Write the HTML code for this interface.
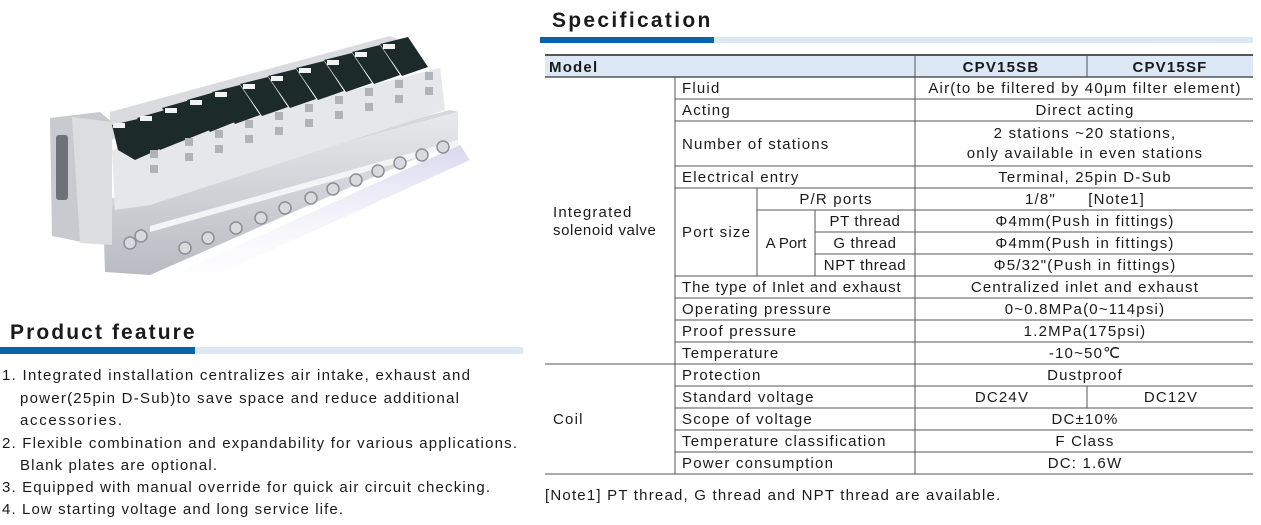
<!DOCTYPE html>
<html><head><meta charset="utf-8"><style>
html,body{margin:0;padding:0;background:#fff;}
svg{display:block;}
text{font-family:"Liberation Sans",Arial,sans-serif;fill:#1a1a1a;}
</style></head><body>
<svg width="1261" height="525" viewBox="0 0 1261 525" xmlns="http://www.w3.org/2000/svg">
<defs>
<linearGradient id="metal" x1="0" y1="0" x2="0" y2="1"><stop offset="0" stop-color="#e8e9ec"/><stop offset="1" stop-color="#b9bbc2"/></linearGradient>
<linearGradient id="shadow" x1="0" y1="0" x2="0" y2="1"><stop offset="0" stop-color="#c9c6e6"/><stop offset="1" stop-color="#fff" stop-opacity="0"/></linearGradient>
</defs>
<g>
<polygon points="140,290 460,145 470,160 150,305" fill="url(#shadow)" opacity="0.7"/>
<polygon points="105,200 450,110 458,112 110,206" fill="#d6d7db"/>
<polygon points="110,206 458,112 458,140 150,275 105,272 103,210" fill="url(#metal)"/>
<polygon points="150,226 458,140 458,146 150,232" fill="#f4f4f6"/>
<polygon points="110,112 390,36 400,40 400,60 110,140" fill="#dadbde"/>
<polygon points="112,150 440,68 445,110 150,205 115,210" fill="#e6e7ea"/>
<g fill="#1d2a2a">
<polygon points="112,125 142,118 162,148 135,160 118,150"/>
<polygon points="137,118 165,110 185,140 160,150"/>
<polygon points="162,108 190,100 210,130 185,140"/>
<polygon points="187,100 215,92 235,122 210,132"/>
<polygon points="212,92 240,85 260,115 235,124"/>
<polygon points="240,84 268,77 288,107 262,116"/>
<polygon points="268,76 296,69 316,99 290,108"/>
<polygon points="296,68 324,61 344,91 318,100"/>
<polygon points="324,60 352,53 372,83 346,92"/>
<polygon points="352,52 380,45 400,75 374,84"/>
<polygon points="380,44 408,37 428,67 402,76"/>
</g>
<g fill="#f2f2f2">
<rect x="113" y="123" width="12" height="5"/><rect x="140" y="116" width="12" height="5"/><rect x="165" y="108" width="12" height="5"/><rect x="190" y="100" width="12" height="5"/><rect x="215" y="92" width="12" height="5"/><rect x="243" y="84" width="12" height="5"/><rect x="271" y="76" width="12" height="5"/><rect x="299" y="68" width="12" height="5"/><rect x="327" y="60" width="12" height="5"/><rect x="355" y="52" width="12" height="5"/><rect x="383" y="44" width="12" height="5"/>
</g>
<g fill="#b0b3b8">
<rect x="150" y="150" width="8" height="8"/><rect x="150" y="165" width="8" height="8"/><rect x="185" y="138" width="8" height="8"/><rect x="185" y="153" width="8" height="8"/><rect x="215" y="130" width="8" height="8"/><rect x="215" y="145" width="8" height="8"/><rect x="245" y="120" width="8" height="8"/><rect x="245" y="135" width="8" height="8"/><rect x="275" y="112" width="8" height="8"/><rect x="275" y="127" width="8" height="8"/><rect x="305" y="104" width="8" height="8"/><rect x="305" y="119" width="8" height="8"/><rect x="335" y="96" width="8" height="8"/><rect x="335" y="111" width="8" height="8"/><rect x="365" y="88" width="8" height="8"/><rect x="365" y="103" width="8" height="8"/><rect x="395" y="80" width="8" height="8"/><rect x="395" y="95" width="8" height="8"/><rect x="425" y="72" width="8" height="8"/><rect x="425" y="87" width="8" height="8"/>
</g>
<polygon points="50,118 100,112 112,122 112,245 82,242 52,236" fill="#c9cacf"/>
<polygon points="72,117 112,122 112,245 80,243" fill="#dcdde0"/>
<rect x="56" y="135" width="12" height="65" rx="3" fill="#6f7178"/>
<g fill="#d9dadd" stroke="#8d8f96" stroke-width="1.5">
<circle cx="185" cy="248" r="6"/><circle cx="208" cy="238" r="6"/><circle cx="236" cy="228" r="6"/><circle cx="261" cy="218" r="6"/><circle cx="285" cy="208" r="6"/><circle cx="311" cy="198" r="6"/><circle cx="333" cy="189" r="6"/><circle cx="356" cy="180" r="6"/><circle cx="378" cy="171" r="6"/><circle cx="400" cy="163" r="6"/><circle cx="422" cy="155" r="6"/><circle cx="443" cy="147" r="6"/>
<circle cx="130" cy="243" r="6"/><circle cx="141" cy="236" r="6"/>
</g>
</g>

<text x="552" y="27" font-size="21" font-weight="bold" letter-spacing="2.3">Specification</text>
<rect x="540" y="37" width="174" height="6" fill="#0a62ad"/>
<rect x="714" y="37" width="539" height="6" fill="#dde8f4"/>

<text x="10" y="339" font-size="21" font-weight="bold" letter-spacing="2.1">Product feature</text>
<rect x="0" y="347" width="195" height="7" fill="#0a62ad"/>
<rect x="195" y="347" width="328" height="7" fill="#dde8f4"/>
<g font-size="15" lengthAdjust="spacing">
<text x="2" y="380" textLength="468" lengthAdjust="spacing">1. Integrated installation centralizes air intake, exhaust and</text>
<text x="20" y="403" textLength="439" lengthAdjust="spacing">power(25pin D-Sub)to save space and reduce additional</text>
<text x="20" y="425" textLength="102" lengthAdjust="spacing">accessories.</text>
<text x="2" y="448" textLength="515" lengthAdjust="spacing">2. Flexible combination and expandability for various applications.</text>
<text x="20" y="470" textLength="197" lengthAdjust="spacing">Blank plates are optional.</text>
<text x="2" y="492" textLength="488" lengthAdjust="spacing">3. Equipped with manual override for quick air circuit checking.</text>
<text x="2" y="514" textLength="341" lengthAdjust="spacing">4. Low starting voltage and long service life.</text>
</g>

<rect x="545" y="55" width="708" height="22" fill="#dce8f5"/>
<g stroke="#555" stroke-width="1" fill="none">
<line x1="545" y1="55" x2="1253" y2="55" stroke-width="2"/>
<line x1="545" y1="77" x2="1253" y2="77" stroke-width="1.5"/>
<line x1="545" y1="364" x2="1253" y2="364"/>
<line x1="545" y1="474" x2="1253" y2="474"/>
<line x1="675" y1="77" x2="675" y2="474"/>
<line x1="915" y1="55" x2="915" y2="474"/>
<line x1="1087" y1="55" x2="1087" y2="77"/>
<line x1="1087" y1="386" x2="1087" y2="408"/>
<line x1="757" y1="188" x2="757" y2="276"/>
<line x1="815" y1="210" x2="815" y2="276"/>
<line x1="675" y1="99" x2="1253" y2="99"/>
<line x1="675" y1="121" x2="1253" y2="121"/>
<line x1="675" y1="166" x2="1253" y2="166"/>
<line x1="675" y1="188" x2="1253" y2="188"/>
<line x1="757" y1="210" x2="1253" y2="210"/>
<line x1="815" y1="232" x2="1253" y2="232"/>
<line x1="815" y1="254" x2="1253" y2="254"/>
<line x1="675" y1="276" x2="1253" y2="276"/>
<line x1="675" y1="298" x2="1253" y2="298"/>
<line x1="675" y1="320" x2="1253" y2="320"/>
<line x1="675" y1="342" x2="1253" y2="342"/>
<line x1="675" y1="386" x2="1253" y2="386"/>
<line x1="675" y1="408" x2="1253" y2="408"/>
<line x1="675" y1="430" x2="1253" y2="430"/>
<line x1="675" y1="452" x2="1253" y2="452"/>
</g>
<g font-size="15" letter-spacing="1.2">
<text x="549" y="72" font-weight="bold">Model</text>
<text x="1001" y="72" font-weight="bold" text-anchor="middle">CPV15SB</text>
<text x="1170" y="72" font-weight="bold" text-anchor="middle">CPV15SF</text>

<text x="682" y="93">Fluid</text>
<text x="682" y="115">Acting</text>
<text x="682" y="149">Number of stations</text>
<text x="682" y="182">Electrical entry</text>
<text x="836" y="204" text-anchor="middle">P/R ports</text>
<text x="682" y="237">Port size</text>
<text x="786" y="248" text-anchor="middle" letter-spacing="0">A Port</text>
<text x="865" y="226" text-anchor="middle" letter-spacing="0.6">PT thread</text>
<text x="865" y="248" text-anchor="middle" letter-spacing="0.6">G thread</text>
<text x="865" y="270" text-anchor="middle" letter-spacing="0.6">NPT thread</text>
<text x="682" y="292" letter-spacing="0.9">The type of Inlet and exhaust</text>
<text x="682" y="314">Operating pressure</text>
<text x="682" y="336">Proof pressure</text>
<text x="682" y="358">Temperature</text>
<text x="682" y="380">Protection</text>
<text x="682" y="402">Standard voltage</text>
<text x="682" y="424">Scope of voltage</text>
<text x="682" y="446">Temperature classification</text>
<text x="682" y="468">Power consumption</text>

<text x="553" y="217">Integrated</text>
<text x="553" y="235" letter-spacing="0.6">solenoid valve</text>
<text x="553" y="424">Coil</text>

<g text-anchor="middle">
<text x="1085" y="93">Air(to be filtered by 40μm filter element)</text>
<text x="1085" y="115">Direct acting</text>
<text x="1085" y="138">2 stations ~20 stations,</text>
<text x="1085" y="158">only available in even stations</text>
<text x="1085" y="182">Terminal, 25pin D-Sub</text>
<text x="1085" y="204" xml:space="preserve">1/8"      [Note1]</text>
<text x="1085" y="226">Φ4mm(Push in fittings)</text>
<text x="1085" y="248">Φ4mm(Push in fittings)</text>
<text x="1085" y="270">Φ5/32"(Push in fittings)</text>
<text x="1085" y="292">Centralized inlet and exhaust</text>
<text x="1085" y="314">0~0.8MPa(0~114psi)</text>
<text x="1085" y="336">1.2MPa(175psi)</text>
<text x="1085" y="358">-10~50℃</text>
<text x="1085" y="380">Dustproof</text>
<text x="1002" y="402">DC24V</text>
<text x="1171" y="402">DC12V</text>
<text x="1085" y="424">DC±10%</text>
<text x="1085" y="446">F Class</text>
<text x="1085" y="468">DC: 1.6W</text>
</g>
<text x="545" y="500">[Note1] PT thread, G thread and NPT thread are available.</text>
</g>
</svg>
</body></html>
